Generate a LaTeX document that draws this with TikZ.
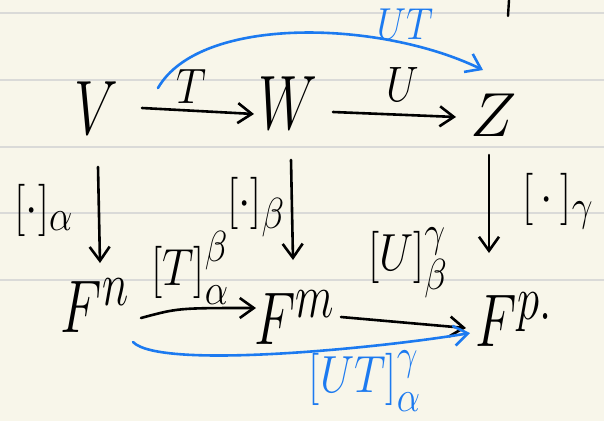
\documentclass[tikz,border=0pt]{standalone}
\usetikzlibrary{arrows.meta}
\definecolor{paper}{RGB}{248,246,234}
\definecolor{ruling}{RGB}{218,218,216}
\definecolor{pen}{RGB}{28,122,240}
\newcommand{\mysupsub}[2]{^{\raisebox{2pt}{$\scriptstyle #1$}}_{\raisebox{-3pt}{$\scriptstyle #2$}}}
\begin{document}
\begin{tikzpicture}[x=1pt,y=-1pt,
  every node/.style={inner sep=0pt, font=\Huge},
  obj/.style={scale=3.1, xscale=0.72},
  fobj/.style={scale=3.0, xscale=0.72},
  lbl/.style={scale=2.0, xscale=0.85},
  brk/.style={scale=2.1, xscale=0.85},
  arr/.style={line width=2.6pt, line cap=round, line join=round,
    -{Straight Barb[length=14pt,width=20pt]}},
  blu/.style={arr, draw=pen},
]
\fill[paper] (0,0) rectangle (604,421);
\useasboundingbox (0,0) rectangle (604,421);
\foreach \yy in {13,80,147,213,280} \draw[ruling, line width=1.3pt] (0,\yy) -- (604,\yy);
\draw[line width=2.4pt, line cap=round] (509,0) -- (508,16);

% objects
\node[obj] (V) at (96,108) {$V$};
\node[obj] (W) at (288,103) {$W$};
\node[scale=2.5] (Z) at (494,115) {$Z$};
\node[fobj] (Fn) at (95,306) {$F^{n}$};
\node[fobj] (Fm) at (295,318) {$F^{m}$};
\node[fobj] (Fp) at (514,320) {$F^{p.}$};

% labels
\node[lbl] (tT) at (192,86) {$T$};
\node[lbl] (tU) at (403,84) {$U$};
\node[lbl, text=pen, scale=0.9] (tUT) at (405,24) {$UT$};
\node[brk] (la) at (44,210) {$[\cdot]_{\alpha}$};
\node[brk] (lb) at (256,207) {$[\cdot]_{\beta}$};
\node[brk] (lg) at (558,201) {$[\,\cdot\,]_{\gamma}$};
\node[brk] (lT) at (190,268) {$[T]\mysupsub{\beta}{\alpha}$};
\node[brk] (lU) at (408,263) {$[U]\mysupsub{\gamma}{\beta}$};
\node[brk, text=pen] (lUT) at (365,381) {$[UT]\mysupsub{\gamma}{\alpha}$};

% horizontal arrows
\draw[arr] ([shift={(46,0)}]V.center) -- ([shift={(-34,11)}]W.center);
\draw[arr] ([shift={(45,9)}]W.center) -- ([shift={(-38,2)}]Z.center);
\draw[arr] ([shift={(46,12)}]Fn.center) .. controls (178,308) .. ([shift={(-39,-10)}]Fm.center);
\draw[arr] ([shift={(46,-1)}]Fm.center) -- ([shift={(-48,8)}]Fp.center);

% vertical arrows
\draw[arr] ([shift={(2,59)}]V.center) -- ([shift={(5,-43)}]Fn.center);
\draw[arr] ([shift={(3,57)}]W.center) -- ([shift={(-2,-58)}]Fm.center);
\draw[arr] ([shift={(-5,40)}]Z.center) -- ([shift={(-25,-67)}]Fp.center);

% composite arcs
\draw[blu] ([shift={(62,-20)}]V.center) .. controls (200,15) and (380,20) .. ([shift={(-11,-45)}]Z.center);
\draw[blu] ([shift={(38,36)}]Fn.center) .. controls (160,370) and (380,348) .. ([shift={(-44,13)}]Fp.center);
\end{tikzpicture}
\end{document}
